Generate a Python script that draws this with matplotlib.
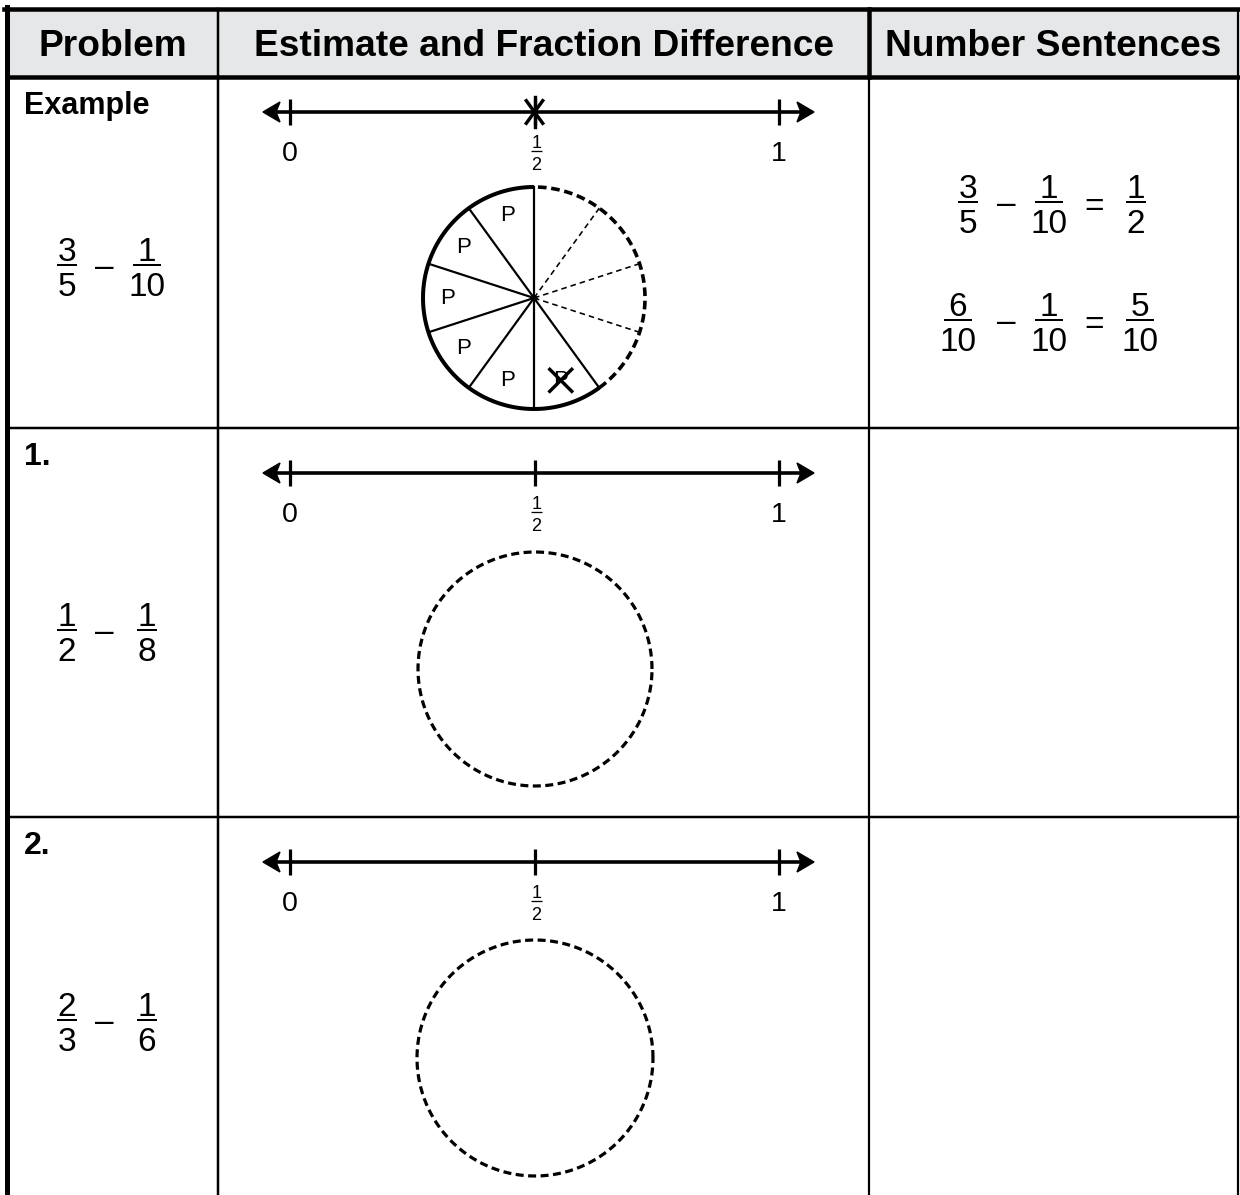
import numpy as np
import matplotlib.pyplot as plt
from matplotlib.patches import Polygon

plt.rcParams['font.family'] = ['Liberation Sans', 'DejaVu Sans']

# table content
headers = ['Problem', 'Estimate and Fraction Difference', 'Number Sentences']
row_labels = ['Example', '1.', '2.']
problems = [[('3', '5'), ('1', '10')],
            [('1', '2'), ('1', '8')],
            [('2', '3'), ('1', '6')]]
line_values = [0, 0.5, 1]
line_names = ['0', ('1', '2'), '1']
estimate_mark = 0.5          # only marked on the example row
pie_parts = 10               # example circle cut in tenths
pie_taken = 6                # 3/5 = 6/10
pie_crossed = 1              # take away 1/10
sentence1 = [('3', '5'), ('1', '10'), ('1', '2')]
sentence2 = [('6', '10'), ('1', '10'), ('5', '10')]

# layout (pixels)
W, H = 1240, 1195
col_x = [7, 218, 869, 1238]
head_top, head_bot = 9, 77
row_tops = [77, 428, 817]
nl_y = [112, 473, 862]
circ_c = [(534, 298), (535, 669), (535, 1058)]
circ_r = [111, 117, 118]
prob_bar = [265, 630, 1020]
nl_x0, nl_x1 = 290, 779
nl_ends = (263, 814)
K = 'black'

fig = plt.figure(figsize=(W / 100, H / 100), dpi=100)
ax = fig.add_axes([0, 0, 1, 1])
ax.set_xlim(0, W)
ax.set_ylim(H, 0)
ax.axis('off')


def px(p):
    return p * 0.72


def frac(x, ybar, num, den, size=24, barw=None, lw=2.0, gap=4, dh=None):
    fpx = size / 0.72
    if dh is None:
        dh = fpx * 0.716
    if barw is None:
        barw = 20 if max(len(num), len(den)) == 1 else 28
        barw = barw * size / 24
    ax.plot([x - barw / 2, x + barw / 2], [ybar, ybar], color=K, lw=px(lw),
            solid_capstyle='butt')
    ax.text(x, ybar - gap, num, ha='center', va='baseline', fontsize=size, color=K)
    ax.text(x, ybar + gap + 3 + dh, den, ha='center', va='baseline', fontsize=size, color=K)


def head(xtip, y, direction):
    # slightly concave arrow head, direction -1 points left, +1 points right
    L, hw, notch = 17, 10, 13
    pts = [(xtip, y), (xtip - direction * L, y - hw),
           (xtip - direction * notch, y), (xtip - direction * L, y + hw)]
    ax.add_patch(Polygon(pts, closed=True, facecolor=K, edgecolor=K, lw=1))


# header band
ax.fill_between([col_x[0], W], head_top, head_bot, color='#e6e7e8', lw=0)
ax.plot([col_x[0] - 3, W], [head_top, head_top], color=K, lw=px(4.5))
ax.plot([col_x[0], W], [head_bot, head_bot], color=K, lw=px(4.5))
for t, x0, x1 in zip(headers, col_x[:-1], col_x[1:]):
    ax.text((x0 + x1) / 2, (head_top + head_bot) / 2 + 3, t, ha='center', va='center',
            fontsize=26.7, fontweight='bold', color=K)

# vertical rules
ax.plot([col_x[0], col_x[0]], [head_top - 2, H], color=K, lw=px(5))
ax.plot([col_x[1], col_x[1]], [head_top, H], color=K, lw=px(2.5))
ax.plot([col_x[2], col_x[2]], [head_top, head_bot], color=K, lw=px(4.5))
ax.plot([col_x[2], col_x[2]], [head_bot, H], color=K, lw=px(2.2))
ax.plot([col_x[3], col_x[3]], [head_top, H], color=K, lw=px(2.2))
for y in row_tops[1:]:
    ax.plot([col_x[0], col_x[3]], [y, y], color=K, lw=px(2.5))

for i in range(3):
    top = row_tops[i]
    # row label
    ax.text(24, top + 14, row_labels[i], ha='left', va='top', fontsize=22 if i == 0 else 23,
            fontweight='bold', color=K)
    # problem
    (a, b), (c, d) = problems[i]
    yb = prob_bar[i]
    frac(67, yb, a, b)
    ax.text(104, yb + 11, '\u2013', ha='center', va='baseline', fontsize=24, color=K)
    frac(147, yb, c, d)

    # number line
    y = nl_y[i]
    ax.plot([nl_ends[0] + 10, nl_ends[1] - 10], [y, y], color=K, lw=px(3.6),
            solid_capstyle='butt')
    head(nl_ends[0], y, -1)
    head(nl_ends[1], y, 1)
    for v, name in zip(line_values, line_names):
        tx = nl_x0 + v * (nl_x1 - nl_x0)
        ax.plot([tx, tx], [y - 13, y + 13], color=K, lw=px(3.2), solid_capstyle='butt')
        if isinstance(name, tuple):
            frac(tx + 2, y + 39, name[0], name[1], size=13, barw=11, lw=1.3, gap=3)
        else:
            ax.text(tx, y + 49, name, ha='center', va='baseline', fontsize=20.5, color=K)
    if i == 0:
        sx = nl_x0 + estimate_mark * (nl_x1 - nl_x0)
        for ang, ln in ((90, 15), (54, 14), (126, 14)):
            dx, dy = ln * np.cos(np.radians(ang)), ln * np.sin(np.radians(ang))
            ax.plot([sx - dx, sx + dx], [y + dy, y - dy], color=K, lw=px(3.4))

    # circle
    cx, cy = circ_c[i]
    r = circ_r[i]
    if i == 0:
        step = 360 / pie_parts
        end = 90 + step * pie_taken
        th = np.radians(np.linspace(90, end, 200))
        ax.plot(cx + r * np.cos(th), cy - r * np.sin(th), color=K, lw=px(4),
                solid_capstyle='butt')
        th = np.radians(np.linspace(end, 450, 120))
        ax.plot(cx + r * np.cos(th), cy - r * np.sin(th), color=K, lw=px(3.6),
                ls=(0, (2.4, 1.3)))
        for k in range(pie_parts):
            a = np.radians(90 + step * k)
            ls = '-' if k <= pie_taken else (0, (3.5, 2.5))
            lw = px(2.2) if k <= pie_taken else px(1.6)
            ax.plot([cx, cx + r * np.cos(a)], [cy, cy - r * np.sin(a)], color=K, lw=lw, ls=ls)
        ax.plot(cx, cy, 'o', color=K, ms=3.5)
        for k in range(pie_taken):
            a = np.radians(90 + step * (k + 0.5))
            lx, ly = cx + 0.78 * r * np.cos(a), cy - 0.78 * r * np.sin(a)
            ax.text(lx, ly, 'P', ha='center', va='center', fontsize=16, color=K)
            if k >= pie_taken - pie_crossed:
                ax.plot([lx - 11, lx + 11], [ly - 11, ly + 11], color=K, lw=px(3.4))
                ax.plot([lx - 11, lx + 11], [ly + 11, ly - 11], color=K, lw=px(3.4))
    else:
        th = np.radians(np.linspace(0, 360, 400))
        ax.plot(cx + r * np.cos(th), cy - r * np.sin(th), color=K, lw=px(3.2),
                ls=(0, (2.5, 1.4)))

# number sentences (example row only)
for sent, yb, xs, ops in [(sentence1, 202, [968, 1049, 1136], [1006, 1094]),
                          (sentence2, 320, [958, 1049, 1140], [1006, 1094])]:
    for (n, d), x in zip(sent, xs):
        frac(x, yb, n, d)
    ax.text(ops[0], yb + 11, '\u2013', ha='center', va='baseline', fontsize=24, color=K)
    ax.text(ops[1], yb + 14, '=', ha='center', va='baseline', fontsize=24, color=K)

fig.savefig('out.png', dpi=100, facecolor='white')
